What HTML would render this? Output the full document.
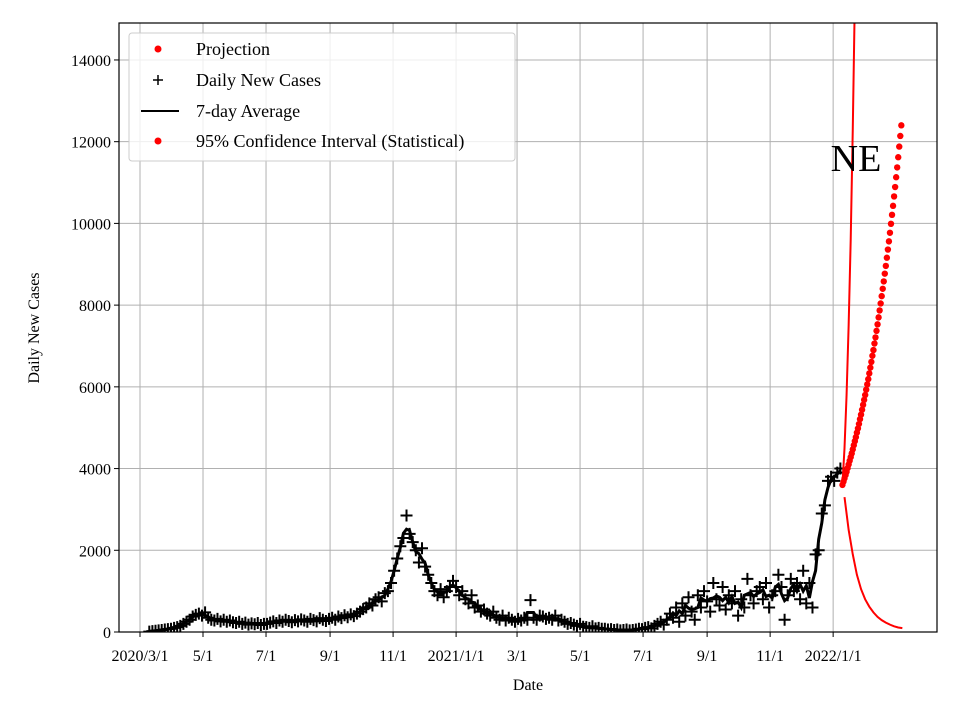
<!DOCTYPE html>
<html><head><meta charset="utf-8"><style>
html,body{margin:0;padding:0;background:#fff;}
svg{display:block;font-family:"Liberation Serif",serif;}
</style></head><body>
<svg id="chart" width="960" height="720" viewBox="0 0 960 720" xmlns="http://www.w3.org/2000/svg"></svg>
<script>
const xTickLabels=["2020/3/1","5/1","7/1","9/1","11/1","2021/1/1","3/1","5/1","7/1","9/1","11/1","2022/1/1"];
const xTickDays=[0,61,122,184,245,306,365,426,487,549,610,671];
const yTicks=[0,2000,4000,6000,8000,10000,12000,14000];
const caseStartDay=9, caseStep=3;
const dailyCases=[10,20,30,40,50,60,70,80,
100,120,150,200,250,300,380,420,450,400,
480,350,300,280,320,260,300,250,280,240,
220,250,200,230,180,210,190,220,170,200,
200,230,260,220,280,250,300,270,240,290,
260,310,280,250,320,290,260,340,300,270,
320,350,300,380,340,410,360,430,390,450,
500,560,600,700,650,800,850,750,950,1000,
1200,1500,1800,2100,2300,2850,2400,2200,2000,1700,
2050,1600,1400,1200,1000,900,1050,850,1000,1100,
1250,1100,900,1000,800,700,900,600,650,500,
550,450,400,500,350,300,400,280,350,
300,250,320,280,350,300,780,350,300,400,
380,320,350,300,400,280,300,250,200,220,
180,150,200,130,120,100,140,90,100,80,
80,60,70,50,60,40,50,60,40,50,
60,80,70,100,120,90,150,200,250,180,
300,450,350,600,250,700,400,850,500,300,
900,600,1000,750,500,1200,800,650,1100,550,
900,700,1000,400,800,600,1300,900,700,1000,
1100,800,1200,600,900,1000,1400,1100,300,900,
1300,1000,1200,800,1500,700,1200,600,1900,2000,
2900,3100,3700,3800,3700,3900,4000];
const projStartDay=680, projStep=1;
const projection=[3600,3680,3760,3840,3920,4010,4100,4190,4280,4370,4470,4570,4670,4770,4880,4980,5090,5210,5320,5440,5560,5680,5800,5930,6060,6190,6330,6470,6610,6760,6900,7060,7210,7370,7530,7700,7870,8040,8220,8400,8580,8770,8960,9160,9360,9560,9770,9990,10210,10430,10660,10890,11130,11370,11620,11880,12140,12400];
const upperStartDay=680, upperStep=2;
const upperCI=[3600,4500,5800,7500,9600,12300,15500,19500];
const lowerStartDay=682, lowerStep=4;
const lowerCI=[3300,2500,1900,1400,1050,800,620,480,370,290,230,180,140,110,95];

const NS="http://www.w3.org/2000/svg";
const svg=document.getElementById('chart');
const L=119,R=937,T=23,B=632;
const xs=d=>140+d*1.033;
const ys=v=>B-v*0.04086;
function mk(tag,attrs,parent){const e=document.createElementNS(NS,tag);for(const k in attrs)e.setAttribute(k,attrs[k]);(parent||svg).appendChild(e);return e;}

const grid=mk('g',{});


xTickDays.forEach((d,i)=>{
  mk('line',{x1:xs(d),x2:xs(d),y1:T,y2:B,stroke:'#b0b0b0','stroke-width':1},grid);
  mk('line',{x1:xs(d),x2:xs(d),y1:B,y2:B+5,stroke:'#000'});
  const lb=mk('text',{x:xs(d),y:B+29,'text-anchor':'middle','font-size':16});
  lb.textContent=xTickLabels[i];
  
  
});
yTicks.forEach(v=>{
  mk('line',{x1:L,x2:R,y1:ys(v),y2:ys(v),stroke:'#b0b0b0','stroke-width':1},grid);
  mk('line',{x1:L-5,x2:L,y1:ys(v),y2:ys(v),stroke:'#000'});
  const lb=mk('text',{x:L-8,y:ys(v)+6,'text-anchor':'end','font-size':16});
  lb.textContent=v;
  
  
});

const clip=mk('clipPath',{id:'pc'});mk('rect',{x:L,y:T,width:R-L,height:B-T},clip);
const plot=mk('g',{'clip-path':'url(#pc)'});



let avgPts=dailyCases.map((v,i)=>{let s=0,n=0;for(let k=-1;k<=1;k++){const j=i+k;if(j>=0&&j<dailyCases.length){s+=dailyCases[j];n++;}}return [xs(caseStartDay+i*caseStep),ys(s/n)];});
const avg=mk('polyline',{points:avgPts.map(p=>p.join(',')).join(' '),fill:'none',stroke:'#000','stroke-width':3},plot);


dailyCases.forEach((v,i)=>{
  const x=xs(caseStartDay+i*caseStep),y=ys(v);
  const p=mk('path',{d:`M${x-6},${y}H${x+6}M${x},${y-6}V${y+6}`,stroke:'#000','stroke-width':2,fill:'none'},plot);
  
  
});
const up=mk('polyline',{points:upperCI.map((v,i)=>xs(upperStartDay+i*upperStep)+','+ys(v)).join(' '),fill:'none',stroke:'#f00','stroke-width':2},plot);


const lo=mk('polyline',{points:lowerCI.map((v,i)=>xs(lowerStartDay+i*lowerStep)+','+ys(v)).join(' '),fill:'none',stroke:'#f00','stroke-width':2},plot);


projection.forEach((v,i)=>{
  const c=mk('circle',{cx:xs(projStartDay+i*projStep),cy:ys(v),r:3.2,fill:'#f00'},plot);
  
  
});
</script>
<svg style="position:absolute;left:0;top:0" width="960" height="720">
<rect x="119" y="23" width="818" height="609" fill="none" stroke="#000" stroke-width="1.2"/>
<text x="856" y="171" font-size="38" text-anchor="middle" font-family="Liberation Serif,serif">NE</text>
<g font-family="Liberation Serif,serif" font-size="18">
<rect x="129" y="33" width="386" height="128" rx="3" fill="#fff" fill-opacity="0.8" stroke="#ccc"/>
<circle cx="158" cy="49" r="3.5" fill="#f00"/>
<text x="196" y="55">Projection</text>
<path d="M153,80H163M158,75V85" stroke="#000" stroke-width="1.5"/>
<text x="196" y="86">Daily New Cases</text>
<line x1="141" x2="179" y1="111" y2="111" stroke="#000" stroke-width="2"/>
<text x="196" y="117">7-day Average</text>
<circle cx="158" cy="141" r="3.5" fill="#f00"/>
<text x="196" y="147">95% Confidence Interval (Statistical)</text>
</g>
<text x="528" y="690" font-size="16" text-anchor="middle" font-family="Liberation Serif,serif">Date</text>
<text transform="translate(39,328) rotate(-90)" font-size="16" text-anchor="middle" font-family="Liberation Serif,serif">Daily New Cases</text>
</svg>
</body></html>
